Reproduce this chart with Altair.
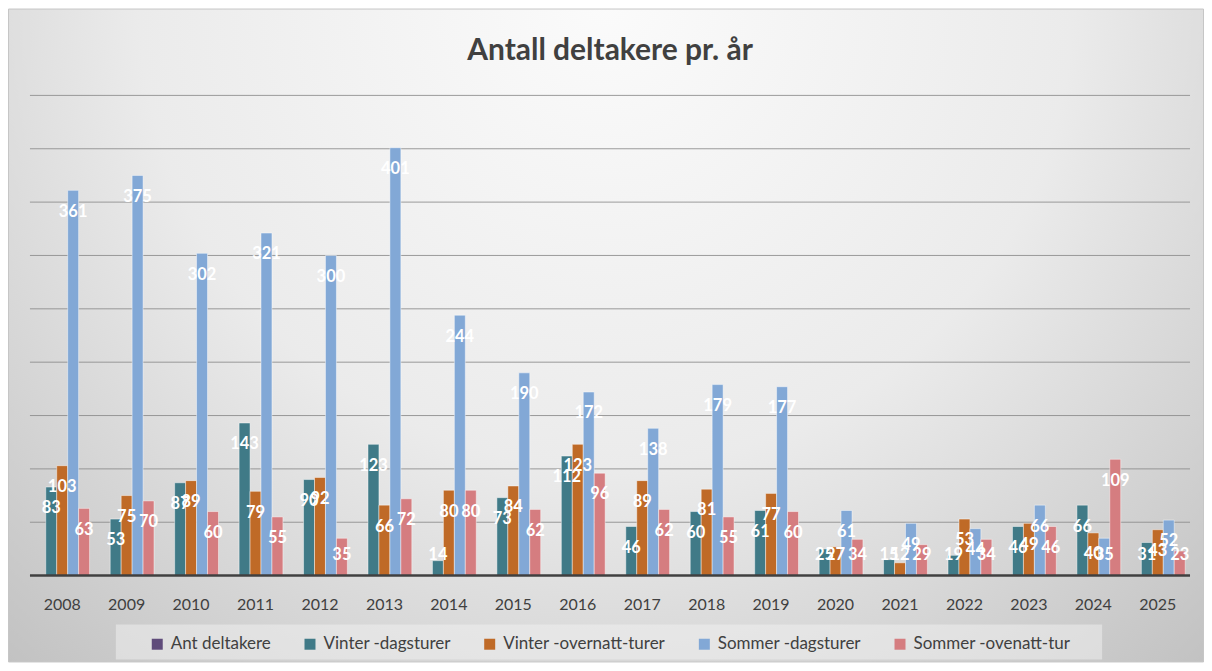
import altair as alt
import pandas as pd

years = [str(y) for y in range(2008, 2026)]
series = ["Ant deltakere", "Vinter -dagsturer", "Vinter -overnatt-turer",
          "Sommer -dagsturer", "Sommer -ovenatt-tur"]
colors = ["#5F4B7A", "#407A87", "#BF6A27", "#82A8D6", "#D57D80"]
chart_title = ["Antall deltakere pr. år"]

ant_deltakere = [None] * 18
vinter_dag = [83, 53, 87, 143, 90, 123, 14, 73, 112, 46, 60, 61, 25, 15, 19, 46, 66, 31]
vinter_over = [103, 75, 89, 79, 92, 66, 80, 84, 123, 89, 81, 77, 27, 12, 53, 49, 40, 43]
sommer_dag = [361, 375, 302, 321, 300, 401, 244, 190, 172, 138, 179, 177, 61, 49, 44, 66, 35, 52]
sommer_over = [63, 70, 60, 55, 35, 72, 80, 62, 96, 62, 55, 60, 34, 29, 34, 46, 109, 23]
grid_values = [50, 100, 150, 200, 250, 300, 350, 400, 450]

rows = []
for name, vals in zip(series, [ant_deltakere, vinter_dag, vinter_over, sommer_dag, sommer_over]):
    for yr, v in zip(years, vals):
        rows.append({"year": yr, "series": name, "value": v})
df = pd.DataFrame(rows)

W, H = 1162, 481
FONT = "Lato"
TXT = "#404040"
yscale = alt.Scale(domain=[0, 450], nice=False)
xscale = alt.Scale(paddingInner=0.15, paddingOuter=0.075)

# decorative background panel (custom rectangular symbol), drawn first
BG_W, BG_H = 1197, 654
r = BG_H / BG_W
bg = alt.Chart(pd.DataFrame({"a": [0]})).mark_point(
    shape=f"M-1,-{r:.5f}L1,-{r:.5f}L1,{r:.5f}L-1,{r:.5f}Z",
    filled=True, size=BG_W ** 2, opacity=1,
    fill=alt.RadialGradient(
        gradient="radial",
        stops=[alt.GradientStop(color="#FBFBFB", offset=0),
               alt.GradientStop(color="#EBEBEB", offset=0.5),
               alt.GradientStop(color="#BEBEBE", offset=1)],
        x1=0.5, y1=0.22, r1=0, x2=0.5, y2=0.22, r2=0.78),
    stroke="#C6C6C6", strokeWidth=1
).encode(x=alt.value(-21.5 + BG_W / 2), y=alt.value(-86.5 + BG_H / 2))

LB_W, LB_H = 988, 35
r2 = LB_H / LB_W
legend_box = alt.Chart(pd.DataFrame({"a": [0]})).mark_point(
    shape=f"M-1,-{r2:.5f}L1,-{r2:.5f}L1,{r2:.5f}L-1,{r2:.5f}Z",
    filled=True, size=LB_W ** 2, fill="#F2F2F2", opacity=0.5, strokeWidth=0
).encode(x=alt.value(86 + LB_W / 2), y=alt.value(530 + LB_H / 2))

title = alt.Chart(pd.DataFrame({"t": chart_title})).mark_text(
    font=FONT, fontSize=30, fontWeight="bold", color=TXT, baseline="middle", align="center"
).encode(x=alt.value(W / 2), y=alt.value(-44), text="t:N")

grid = alt.Chart(pd.DataFrame({"g": grid_values})).mark_point(
    shape="M-1,0L1,0", filled=False, size=W ** 2, stroke="#8C8C8C",
    strokeWidth=1, opacity=0.85
).encode(
    y=alt.Y("g:Q", scale=yscale, axis=None),
    x=alt.value(W / 2)
)

bars = alt.Chart(df).mark_bar(stroke="white", strokeOpacity=0.45, strokeWidth=1).encode(
    x=alt.X("year:N", sort=years, scale=xscale, axis=None),
    xOffset=alt.XOffset("series:N", sort=series),
    y=alt.Y("value:Q", scale=yscale, axis=None),
    color=alt.Color("series:N", sort=series,
                    scale=alt.Scale(domain=series, range=colors),
                    legend=alt.Legend(orient="none", legendX=119, legendY=541,
                                      direction="horizontal", title=None,
                                      symbolType="square", symbolSize=121,
                                      symbolStrokeWidth=0,
                                      labelFontSize=17, labelFont=FONT,
                                      labelColor=TXT, columnPadding=30,
                                      labelOffset=5, labelLimit=400))
)

baseline = alt.Chart(pd.DataFrame({"a": [0]})).mark_point(
    shape="M-1,0L1,0", filled=False, size=W ** 2, stroke=TXT, strokeWidth=2.5, opacity=1
).encode(x=alt.value(W / 2), y=alt.value(H))

year_labels = alt.Chart(pd.DataFrame({"year": years})).mark_text(
    font=FONT, fontSize=16, color=TXT, baseline="middle"
).encode(
    x=alt.X("year:N", sort=years, axis=None),
    y=alt.value(H + 29),
    text="year:N"
)

labels = alt.Chart(df).transform_filter(
    alt.datum.value > 0
).transform_calculate(
    ly="max(datum.value - 20, 19.5)"
).mark_text(color="white", fontWeight="bold", fontSize=16.5, font=FONT, baseline="middle").encode(
    x=alt.X("year:N", sort=years, axis=None),
    xOffset=alt.XOffset("series:N", sort=series),
    y=alt.Y("ly:Q", scale=yscale, axis=None),
    text=alt.Text("value:Q")
)

chart = alt.layer(bg, legend_box, title, grid, bars, baseline, year_labels, labels).properties(
    width=W, height=H,
    padding={"left": 22, "top": 87, "right": 14, "bottom": 87},
    autosize="none"
).configure_view(strokeWidth=0).configure(background="white")

chart.save("out.html", embed_options={"renderer": "svg", "actions": False})
